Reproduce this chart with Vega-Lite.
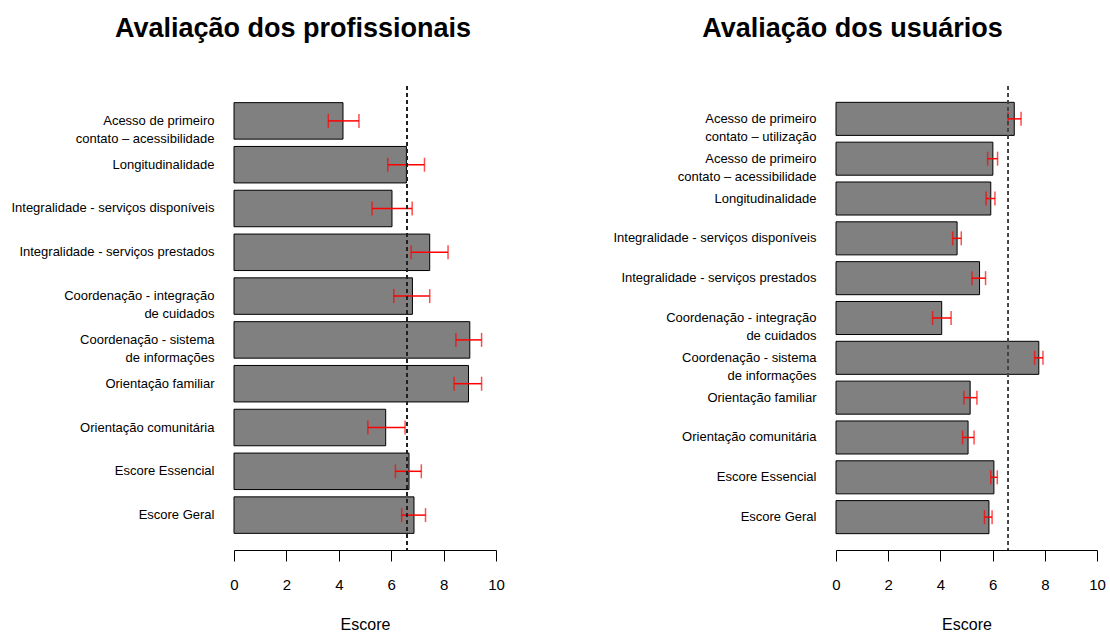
{
  "$schema": "https://vega.github.io/schema/vega-lite/v6.json",
  "background": "white",
  "padding": {"left": 5, "right": 5, "top": 14, "bottom": 0},
  "config": {
    "view": {"stroke": null},
    "font": "Liberation Sans",
    "axis": {"grid": false, "labelColor": "#000", "titleColor": "#000", "domainColor": "#000", "tickColor": "#000"},
    "title": {"font": "Liberation Sans", "fontSize": 27, "fontWeight": "bold", "color": "#000", "anchor": "middle", "offset": 43}
  },
  "datasets": {
    "prof": [
      {"item": "Acesso de primeiro|contato – acessibilidade", "score": 4.16, "lo": 3.60, "hi": 4.77},
      {"item": "Longitudinalidade", "score": 6.58, "lo": 5.87, "hi": 7.27},
      {"item": "Integralidade - serviços disponíveis", "score": 6.03, "lo": 5.27, "hi": 6.80},
      {"item": "Integralidade - serviços prestados", "score": 7.47, "lo": 6.76, "hi": 8.17},
      {"item": "Coordenação - integração|de cuidados", "score": 6.81, "lo": 6.10, "hi": 7.47},
      {"item": "Coordenação - sistema|de informações", "score": 9.00, "lo": 8.47, "hi": 9.45},
      {"item": "Orientação familiar", "score": 8.95, "lo": 8.40, "hi": 9.45},
      {"item": "Orientação comunitária", "score": 5.79, "lo": 5.11, "hi": 6.53},
      {"item": "Escore Essencial", "score": 6.68, "lo": 6.16, "hi": 7.15},
      {"item": "Escore Geral", "score": 6.87, "lo": 6.40, "hi": 7.31}
    ],
    "usu": [
      {"item": "Acesso de primeiro|contato – utilização", "score": 6.83, "lo": 6.59, "hi": 7.09},
      {"item": "Acesso de primeiro|contato – acessibilidade", "score": 6.01, "lo": 5.81, "hi": 6.19},
      {"item": "Longitudinalidade", "score": 5.93, "lo": 5.75, "hi": 6.09},
      {"item": "Integralidade - serviços disponíveis", "score": 4.64, "lo": 4.47, "hi": 4.80},
      {"item": "Integralidade - serviços prestados", "score": 5.50, "lo": 5.21, "hi": 5.73},
      {"item": "Coordenação - integração|de cuidados", "score": 4.05, "lo": 3.70, "hi": 4.41},
      {"item": "Coordenação - sistema|de informações", "score": 7.77, "lo": 7.61, "hi": 7.93},
      {"item": "Orientação familiar", "score": 5.14, "lo": 4.90, "hi": 5.40},
      {"item": "Orientação comunitária", "score": 5.06, "lo": 4.85, "hi": 5.29},
      {"item": "Escore Essencial", "score": 6.05, "lo": 5.93, "hi": 6.18},
      {"item": "Escore Geral", "score": 5.86, "lo": 5.69, "hi": 5.98}
    ]
  },
  "spacing": 102,
  "hconcat": [
    {
      "title": {"text": "Avaliação dos profissionais", "dx": -72},
      "width": 262,
      "height": 464,
      "data": {"name": "prof"},
      "layer": [
        {
          "mark": {"type": "bar", "fill": "#808080", "stroke": "#000", "strokeWidth": 1},
          "encoding": {
            "y": {
              "field": "item", "type": "nominal", "sort": null,
              "scale": {"paddingInner": 0.167, "paddingOuter": 0.38},
              "axis": {"title": null, "domain": false, "ticks": false, "tickSize": 0, "labelPadding": 20, "labelFontSize": 13, "labelLineHeight": 18, "labelLimit": 400, "labelExpr": "split(datum.label, '|')", "minExtent": 229, "maxExtent": 229}
            },
            "x": {
              "field": "score", "type": "quantitative", "title": "Escore",
              "scale": {"domain": [0, 10], "nice": false},
              "axis": {"values": [0, 2, 4, 6, 8, 10], "tickSize": 11, "labelPadding": 16, "labelFontSize": 15, "titleFontSize": 16, "titleFontWeight": "normal", "titlePadding": 24, "labelFlush": false}
            }
          }
        },
        {
          "mark": {"type": "rule", "color": "#ff0000", "strokeWidth": 1.5},
          "encoding": {
            "y": {"field": "item", "type": "nominal", "sort": null},
            "x": {"field": "lo", "type": "quantitative", "title": "Escore"},
            "x2": {"field": "hi"}
          }
        },
        {
          "mark": {"type": "tick", "color": "#ff0000", "size": 14, "thickness": 1.5, "orient": "vertical"},
          "encoding": {
            "y": {"field": "item", "type": "nominal", "sort": null},
            "x": {"field": "lo", "type": "quantitative", "title": "Escore"}
          }
        },
        {
          "mark": {"type": "tick", "color": "#ff0000", "size": 14, "thickness": 1.5, "orient": "vertical"},
          "encoding": {
            "y": {"field": "item", "type": "nominal", "sort": null},
            "x": {"field": "hi", "type": "quantitative", "title": "Escore"}
          }
        },
        {
          "mark": {"type": "rule", "color": "#222", "strokeDash": [4, 3], "strokeWidth": 1},
          "encoding": {"x": {"datum": 6.6, "type": "quantitative"}}
        }
      ]
    },
    {
      "title": {"text": "Avaliação dos usuários", "dx": -114},
      "width": 261,
      "height": 464,
      "data": {"name": "usu"},
      "layer": [
        {
          "mark": {"type": "bar", "fill": "#808080", "stroke": "#000", "strokeWidth": 1},
          "encoding": {
            "y": {
              "field": "item", "type": "nominal", "sort": null,
              "scale": {"paddingInner": 0.17, "paddingOuter": 0.41},
              "axis": {"title": null, "domain": false, "ticks": false, "tickSize": 0, "labelPadding": 20, "labelFontSize": 13, "labelLineHeight": 18, "labelLimit": 400, "labelExpr": "split(datum.label, '|')", "minExtent": 229, "maxExtent": 229}
            },
            "x": {
              "field": "score", "type": "quantitative", "title": "Escore",
              "scale": {"domain": [0, 10], "nice": false},
              "axis": {"values": [0, 2, 4, 6, 8, 10], "tickSize": 11, "labelPadding": 16, "labelFontSize": 15, "titleFontSize": 16, "titleFontWeight": "normal", "titlePadding": 24, "labelFlush": false}
            }
          }
        },
        {
          "mark": {"type": "rule", "color": "#ff0000", "strokeWidth": 1.5},
          "encoding": {
            "y": {"field": "item", "type": "nominal", "sort": null},
            "x": {"field": "lo", "type": "quantitative", "title": "Escore"},
            "x2": {"field": "hi"}
          }
        },
        {
          "mark": {"type": "tick", "color": "#ff0000", "size": 14, "thickness": 1.5, "orient": "vertical"},
          "encoding": {
            "y": {"field": "item", "type": "nominal", "sort": null},
            "x": {"field": "lo", "type": "quantitative", "title": "Escore"}
          }
        },
        {
          "mark": {"type": "tick", "color": "#ff0000", "size": 14, "thickness": 1.5, "orient": "vertical"},
          "encoding": {
            "y": {"field": "item", "type": "nominal", "sort": null},
            "x": {"field": "hi", "type": "quantitative", "title": "Escore"}
          }
        },
        {
          "mark": {"type": "rule", "color": "#444", "strokeDash": [4, 3], "strokeWidth": 1},
          "encoding": {"x": {"datum": 6.6, "type": "quantitative"}}
        }
      ]
    }
  ]
}
